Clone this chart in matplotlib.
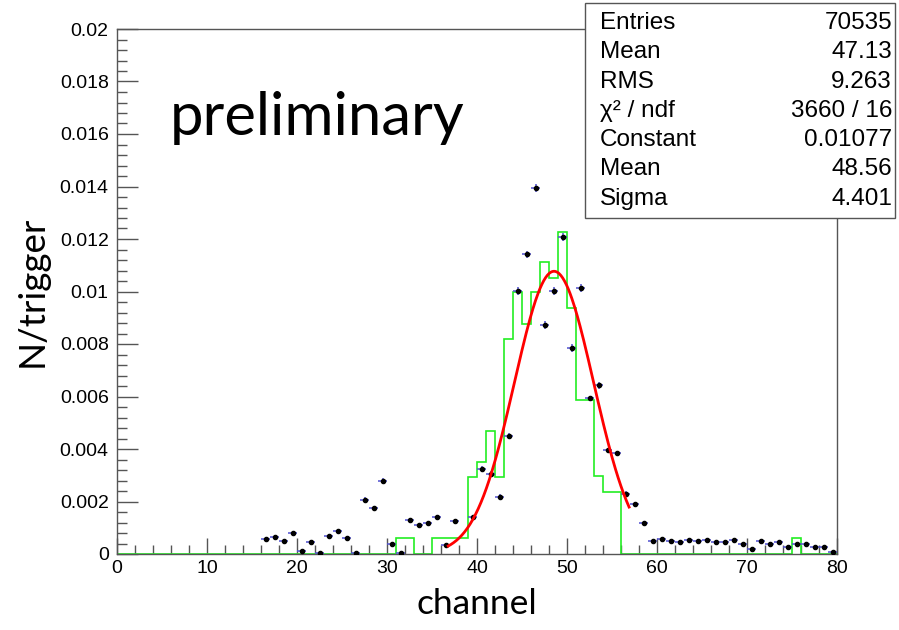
import numpy as np
import matplotlib
matplotlib.use("Agg")
import matplotlib.pyplot as plt
from matplotlib.patches import Rectangle

# points (black markers with errors), bin index -> N/trigger
chan = [16, 17, 18, 19, 20, 21, 22, 23, 24, 25, 26, 27, 28, 29, 30, 31,
        32, 33, 34, 35, 36, 37, 39, 40, 41, 42, 43, 44, 45, 46, 47, 48,
        49, 50, 51, 52, 53, 54, 55, 56, 57, 58, 59, 60, 61, 62, 63, 64,
        65, 66, 67, 68, 69, 70, 71, 72, 73, 74, 75, 76, 77, 78, 79]
vals = [0.00058, 0.00065, 0.00050, 0.00081, 0.00013, 0.00045, 0.00005, 0.00070,
        0.00089, 0.00062, 0.00005, 0.00207, 0.00174, 0.00280, 0.00039, 0.00005,
        0.00130, 0.00112, 0.00120, 0.00142, 0.00033, 0.00127, 0.00142, 0.00325,
        0.00306, 0.00218, 0.00450, 0.01003, 0.01141, 0.01393, 0.00873, 0.01003,
        0.01209, 0.00786, 0.01015, 0.00593, 0.00642, 0.00395, 0.00384, 0.00230,
        0.00190, 0.00120, 0.00048, 0.00059, 0.00048, 0.00044, 0.00055, 0.00048,
        0.00052, 0.00045, 0.00045, 0.00055, 0.00039, 0.00020, 0.00048, 0.00039,
        0.00045, 0.00028, 0.00039, 0.00039, 0.00025, 0.00025, 0.00007]

# green histogram, non-empty bins
hist_bins = [31, 32, 35, 36, 37, 38, 39, 40, 41, 42, 43, 44, 45, 46, 47,
             48, 49, 50, 51, 52, 53, 54, 55, 75]
hist_vals = [0.0006, 0.0006, 0.0006, 0.0006, 0.0006, 0.0006, 0.00292, 0.00351,
             0.00469, 0.00292, 0.0082, 0.00999, 0.00876, 0.00997, 0.01112,
             0.0105, 0.01228, 0.00936, 0.00588, 0.00588, 0.00296, 0.00235,
             0.00235, 0.0006]

# gaus fit parameters (from stats box)
fit_const, fit_mean, fit_sigma = 0.01077, 48.56, 4.401
fit_lo, fit_hi = 36.8, 56.9

stats_lbl = ["Entries", "Mean", "RMS", "χ² / ndf", "Constant", "Mean", "Sigma"]
stats_val = ["70535", "47.13", "9.263", "3660 / 16", "0.01077", "48.56", "4.401"]

W, H = 899, 630
fig = plt.figure(figsize=(W / 100, H / 100), dpi=100)
ax = fig.add_axes([117 / W, 76 / H, 720 / W, 525 / H])

edges = np.arange(0, 81)
h = np.zeros(80)
h[hist_bins] = hist_vals
ax.stairs(h, edges, color="#22ee22", lw=1.2, zorder=2)

x = np.array(chan) + 0.5
y = np.array(vals)
yerr = np.where(y > 0.006, 0.00015, np.where(y > 0.002, 0.0001, 0.0))
ax.errorbar(x, y, xerr=0.5, yerr=yerr, fmt="o", ms=3, mfc="black", mec="black",
            ecolor="#5050d0", elinewidth=1.1, capsize=0, zorder=3)

xf = np.linspace(fit_lo, fit_hi, 200)
ax.plot(xf, fit_const * np.exp(-0.5 * ((xf - fit_mean) / fit_sigma) ** 2),
        color="red", lw=2, zorder=4)

ax.set_xlim(0, 80)
ax.set_ylim(0, 0.02)
ax.set_xticks(np.arange(0, 81, 10))
ax.set_xticks(np.arange(0, 81, 2), minor=True)
ax.set_yticks(np.arange(0, 0.0201, 0.002))
ax.set_yticks(np.arange(0, 0.0201, 0.0004), minor=True)
ax.set_yticklabels(["0"] + ["%g" % v for v in np.arange(0.002, 0.0201, 0.002)])
for lab in ax.get_xticklabels() + ax.get_yticklabels():
    lab.set_family("Liberation Sans")
ax.tick_params(axis="x", which="major", direction="in", length=11.5, width=1,
               color="#555555", labelsize=14, pad=4)
ax.tick_params(axis="x", which="minor", direction="in", length=6.3, width=1,
               color="#555555")
ax.tick_params(axis="y", which="major", direction="in", length=15, width=1,
               color="#555555", labelsize=14, pad=6)
ax.tick_params(axis="y", which="minor", direction="in", length=7.2, width=1,
               color="#555555")
for s in ax.spines.values():
    s.set_color("#555555")
    s.set_linewidth(1)

ax.set_xlabel("channel", family="Lato", fontsize=25.5, labelpad=8)
ax.set_ylabel("N/trigger", family="Lato", fontsize=26.5, labelpad=8)

fig.text(170 / W, 1 - 118 / H, "preliminary", family="Lato", fontsize=43,
         va="center", ha="left")

# stats box
fig.patches.append(Rectangle((585 / W, 1 - 218 / H), 310 / W, 215 / H,
                             transform=fig.transFigure, facecolor="white",
                             edgecolor="#555555", lw=1, zorder=10))
for i in range(len(stats_lbl)):
    yy = 1 - (23 + 29.3 * i) / H
    fig.text(600 / W, yy, stats_lbl[i], family="Liberation Sans", fontsize=17.5,
             va="center", ha="left", zorder=11)
    fig.text(892 / W, yy, stats_val[i], family="Liberation Sans", fontsize=17.5,
             va="center", ha="right", zorder=11)

fig.savefig("out.png", dpi=100)
